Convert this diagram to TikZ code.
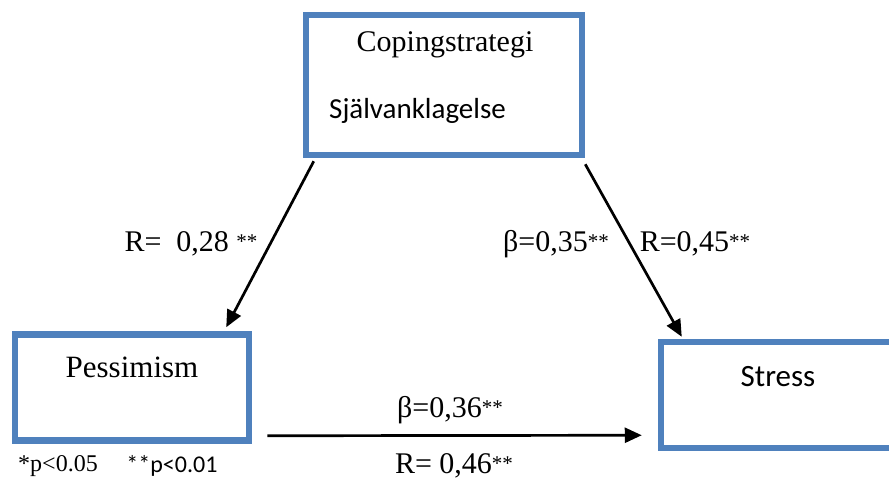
\documentclass[tikz,border=0pt]{standalone}
\usepackage{fontspec}
\setmainfont{Liberation Serif}
\newfontfamily\calibri{Carlito}
\usetikzlibrary{arrows.meta}
\definecolor{boxblue}{RGB}{79,129,189}
\newcommand{\sig}{\raisebox{3pt}{\fontsize{21}{21}\selectfont **}}
\tikzset{
  box/.style={draw=boxblue, line width=6.5pt, minimum width=234pt, minimum height=106pt, inner sep=0pt},
  arr/.style={line width=2.7pt, -{Triangle[length=17pt,width=15pt]}},
  lbl/.style={font=\fontsize{30}{34}\selectfont, inner sep=0pt}
}
\begin{document}
\begin{tikzpicture}[x=1pt, y=-1pt]
\useasboundingbox (0,0) rectangle (889,481);
\clip (0,0) rectangle (889,481);

% --- Boxes ---
\node[box, minimum width=276pt, minimum height=140pt] (cope) at (444,85) {};
\node[box] (pess) at (132,387.5) {};
\node[box] (stress) at (778,395) {};

% --- Box texts ---
\node[lbl] (copeA) at (445,45) {Copingstrategi};
\node[lbl, anchor=west, font=\calibri\fontsize{29}{34}\selectfont] (copeB) at (329,111) {Självanklagelse};
\node[lbl, font=\fontsize{31}{34}\selectfont] (pessT) at (132,367) {Pessimism};
\node[lbl, font=\calibri\fontsize{31}{34}\selectfont] (stressT) at (778,377) {Stress};

% --- Paths ---
\draw[arr] ([xshift=11pt,yshift=-3pt]cope.south west) -- ([xshift=-26pt,yshift=4pt]pess.north east);
\draw[arr] ([yshift=-6pt]cope.south east) -- ([xshift=24pt,yshift=2pt]stress.north west);
\draw[arr] ([xshift=15pt,yshift=8pt]pess.south east) -- ([xshift=-16pt,yshift=16pt]stress.south west);

% --- Coefficients ---
\node[lbl] (r28) at (191,244) {R=\ \ 0,28 \sig};
\node[lbl] (b35) at (556,244) {β=0,35\sig};
\node[lbl] (r45) at (695,244) {R=0,45\sig};
\node[lbl] (b36) at (450,410) {β=0,36\sig};
\node[lbl] (r46) at (454,466) {R= 0,46\sig};

% --- Significance ---
\node[lbl, font=\fontsize{24}{28}\selectfont] (p05) at (58,466) {*p<0.05};
\node[lbl, font=\calibri\fontsize{24}{28}\selectfont] (p01) at (172,466) {**p<0.01};

\end{tikzpicture}
\end{document}
